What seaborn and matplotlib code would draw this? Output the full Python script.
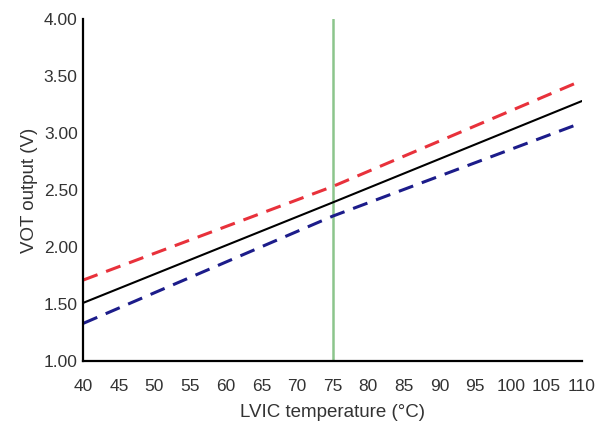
import pandas as pd
import matplotlib
matplotlib.use("Agg")
import matplotlib.pyplot as plt
import seaborn as sns

# LVIC temperature (degC) and VOT output (V)
temps = [40, 75, 110]
vot_max = [1.71, 2.53, 3.46]
vot_typ = [1.51, 2.39, 3.28]
vot_min = [1.33, 2.27, 3.09]
marker_temp = 75

x_ticks = list(range(40, 111, 5))
y_ticks = [1.00, 1.50, 2.00, 2.50, 3.00, 3.50, 4.00]

df = pd.DataFrame({
    "temp": temps * 3,
    "vot": vot_max + vot_typ + vot_min,
    "curve": ["max"] * 3 + ["typ"] * 3 + ["min"] * 3,
})

sns.set_style("white")
plt.rcParams["font.family"] = ["Liberation Sans", "DejaVu Sans"]

fig = plt.figure(figsize=(6.03, 4.21), dpi=100)
ax = fig.add_axes([0.138, 0.1425, 0.827, 0.8125])

ax.axvline(marker_temp, color="#8cc58c", lw=1.8, zorder=1)

sns.lineplot(data=df, x="temp", y="vot", hue="curve", style="curve",
             palette={"max": "#e8313b", "typ": "black", "min": "#1c1c8a"},
             dashes={"max": (5, 3), "typ": "", "min": (5, 3)},
             hue_order=["max", "typ", "min"],
             legend=False, ax=ax, zorder=2)
for line, lw in zip(ax.lines[1:], [2.2, 1.5, 2.2]):
    line.set_linewidth(lw)

ax.set_xlim(40, 110)
ax.set_ylim(1.0, 4.0)
ax.set_xticks(x_ticks)
ax.set_yticks(y_ticks)
ax.set_yticklabels([f"{v:.2f}" for v in y_ticks])
ax.tick_params(direction="in", length=4, width=0.8, color="#999999",
               labelsize=12.5, labelcolor="#333333")
ax.tick_params(axis="x", pad=13)
ax.tick_params(axis="y", pad=4)

for side in ["top", "right"]:
    ax.spines[side].set_visible(False)
for side in ["left", "bottom"]:
    ax.spines[side].set_color("black")
    ax.spines[side].set_linewidth(1.6)

ax.set_xlabel("LVIC temperature (\u00b0C)", fontsize=13.5, color="#333333", labelpad=7)
ax.set_ylabel("VOT output (V)", fontsize=13.5, color="#333333", labelpad=4)

fig.savefig("out.png", dpi=100)
